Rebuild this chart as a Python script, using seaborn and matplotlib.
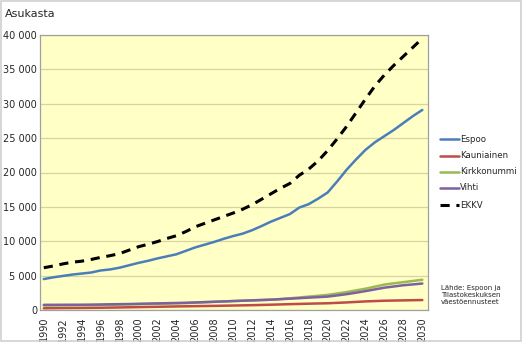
import matplotlib
matplotlib.use("Agg")
import matplotlib.pyplot as plt
import seaborn as sns
import pandas as pd
from matplotlib.ticker import FuncFormatter, MultipleLocator

years = list(range(1990, 2031))
espoo = [4500, 4750, 4950, 5150, 5300, 5450, 5750, 5900, 6150, 6500,
         6850, 7150, 7500, 7800, 8100, 8600, 9100, 9500, 9900, 10350,
         10750, 11100, 11600, 12200, 12850, 13400, 13950, 14900, 15400, 16200,
         17100, 18700, 20400, 21900, 23300, 24400, 25300, 26200, 27200, 28200,
         29100]
kauniainen = [250, 265, 280, 290, 300, 315, 330, 350, 370, 395,
              420, 445, 470, 495, 520, 540, 560, 580, 600, 625,
              650, 675, 700, 735, 770, 810, 850, 885, 920, 950,
              980, 1040, 1100, 1175, 1250, 1300, 1350, 1375, 1400, 1425,
              1450]
kirkkonummi = [650, 660, 670, 680, 690, 700, 730, 760, 790, 820,
               850, 880, 910, 940, 970, 1000, 1060, 1120, 1180, 1240,
               1300, 1350, 1400, 1450, 1500, 1600, 1700, 1820, 1950, 2070,
               2200, 2400, 2600, 2850, 3100, 3400, 3700, 3880, 4050, 4220,
               4400]
vihti = [750, 755, 760, 765, 770, 780, 800, 830, 850, 870,
         900, 930, 960, 990, 1020, 1050, 1100, 1150, 1200, 1250,
         1300, 1350, 1400, 1450, 1500, 1570, 1650, 1720, 1800, 1870,
         1950, 2120, 2300, 2520, 2750, 3000, 3250, 3420, 3600, 3720,
         3850]
ekkv = [6150, 6400, 6700, 6950, 7100, 7350, 7650, 7900, 8200, 8700,
        9200, 9550, 9950, 10400, 10800, 11400, 12100, 12600, 13100, 13600,
        14100, 14650, 15300, 16100, 16900, 17700, 18400, 19600, 20500, 21700,
        23200, 24900, 26700, 28700, 30700, 32600, 34200, 35600, 36900, 38200,
        39500]

series_names = ["Espoo", "Kauniainen", "Kirkkonummi", "Vihti", "EKKV"]
series_values = [espoo, kauniainen, kirkkonummi, vihti, ekkv]
colors = ["#4A7EBB", "#BE4B48", "#98B954", "#7D60A0", "#000000"]

frames = []
for n, v in zip(series_names, series_values):
    frames.append(pd.DataFrame({"Vuosi": years, "Asukasta": v, "Alue": n}))
df = pd.concat(frames, ignore_index=True)

sns.set_theme(style="white")
plt.rcParams["font.family"] = ["DejaVu Sans"]

fig = plt.figure(figsize=(5.22, 3.42), dpi=100)
ax = fig.add_axes([40/522, 1-310/342, (428-40)/522, (310-35)/342])
ax.set_facecolor("#FFFFC6")

palette = dict(zip(series_names, colors))
dashes = {n: "" for n in series_names}
dashes["EKKV"] = (3, 2.2)
sns.lineplot(data=df, x="Vuosi", y="Asukasta", hue="Alue", style="Alue",
             palette=palette, dashes=dashes, ax=ax, linewidth=1.8, legend=False)
ax.lines[-1].set_linewidth(2.2)

ax.set_xlim(1989.6, 2030.6)
ax.set_ylim(0, 40000)
ax.yaxis.set_major_locator(MultipleLocator(5000))
ax.yaxis.set_minor_locator(MultipleLocator(1000))
ax.yaxis.set_major_formatter(FuncFormatter(lambda v, p: f"{int(v):,}".replace(",", " ")))
ax.set_xticks(years[::2])
ax.set_xticklabels([str(y) for y in years[::2]], rotation=90)
ax.set_xticks(years, minor=True)
ax.tick_params(axis="both", which="major", labelsize=7, length=3, color="#999999", pad=2)
ax.tick_params(axis="y", which="minor", length=2, direction="in", color="#BBBBBB")
ax.tick_params(axis="x", which="minor", length=3, color="#999999")
ax.tick_params(axis="y", which="major", direction="in", length=3)
ax.grid(True, axis="y", which="major", color="#D8D4A0", linewidth=0.9)
ax.set_axisbelow(True)
ax.set_xlabel("")
ax.set_ylabel("")
for s in ax.spines.values():
    s.set_color("#A0A0A0")
    s.set_linewidth(0.9)

fig.text(5/522, 1-14/342, "Asukasta", fontsize=8, va="center", ha="left")

legend_y = [139, 156, 172, 188, 205]
for n, c, yy in zip(series_names, colors, legend_y):
    yf = 1 - yy/342
    ls = (0, (3, 2.2)) if n == "EKKV" else "-"
    fig.add_artist(plt.Line2D([440/522, 459/522], [yf, yf], color=c,
                              linewidth=2.2 if n == "EKKV" else 1.8,
                              linestyle=ls, transform=fig.transFigure))
    fig.text(460/522, yf, n, fontsize=6.2, va="center", ha="left")

fig.text(441/522, 1-295/342, "Lähde: Espoon ja\nTilastokeskuksen\nväestöennusteet",
         fontsize=5, va="center", ha="left", linespacing=1.2)

fig.patches.append(plt.Rectangle((0.002, 0.004), 0.996, 0.992, transform=fig.transFigure,
                                 fill=False, edgecolor="#D0D0D0", linewidth=1.2))

fig.savefig("out.png", dpi=100)
